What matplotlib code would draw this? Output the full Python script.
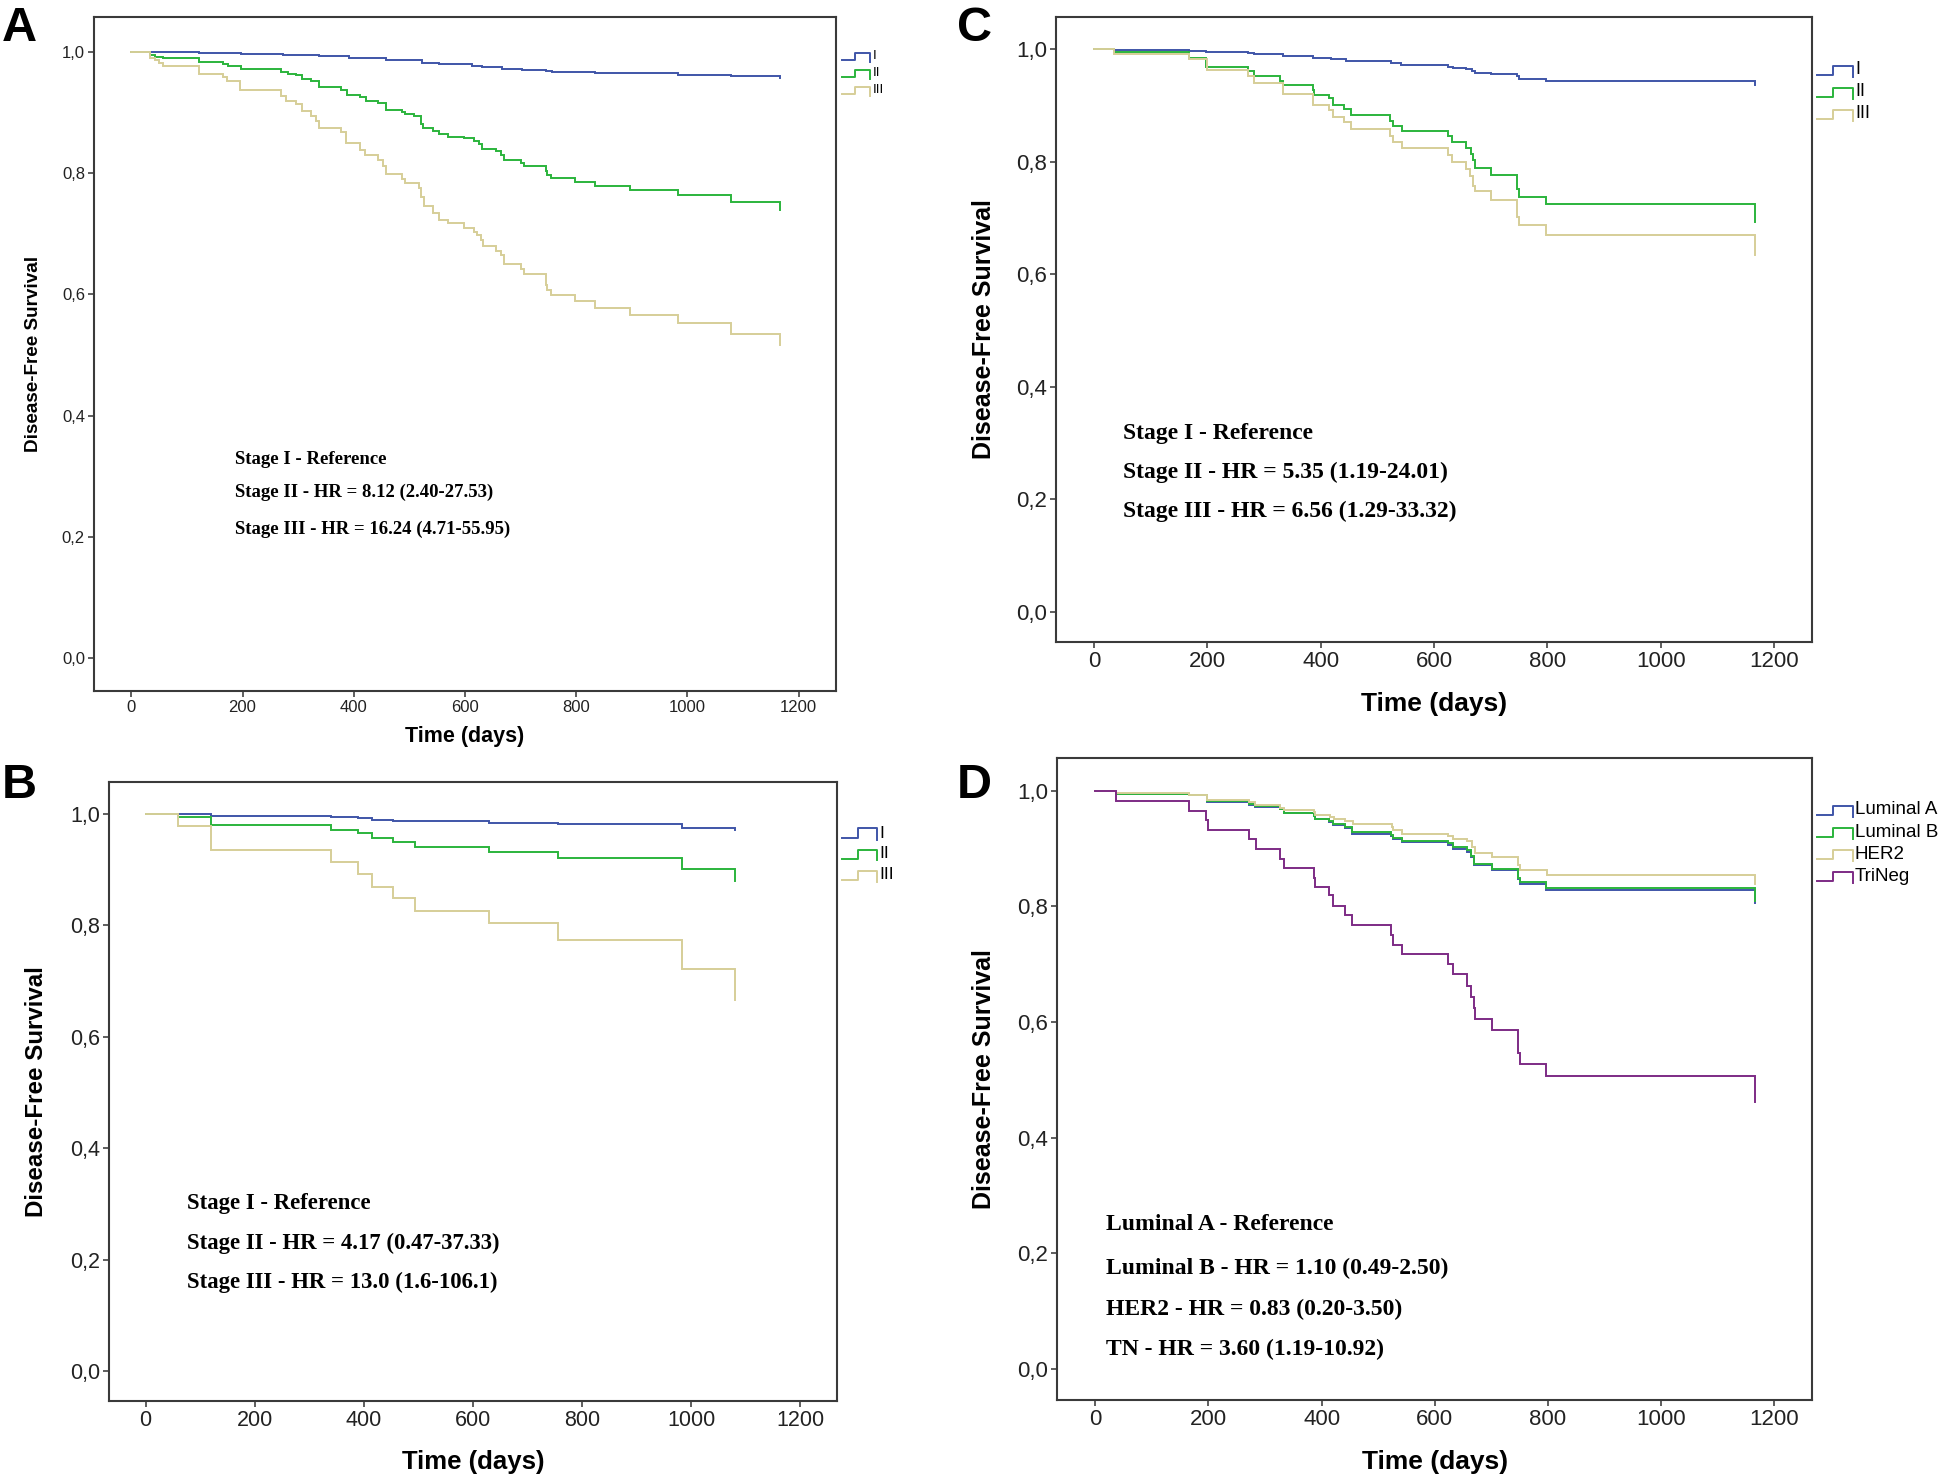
import matplotlib
matplotlib.use("Agg")
import matplotlib.pyplot as plt
from matplotlib import font_manager as fm
from matplotlib.lines import Line2D

W, H = 1946, 1478

names = {f.name for f in fm.fontManager.ttflist}
NARROW = "Liberation Sans Narrow" if "Liberation Sans Narrow" in names else "Liberation Sans"
SANS = "Liberation Sans"
SERIF = "Liberation Serif"

BLUE = "#3f55a8"
GREEN = "#2bb43c"
TAN = "#d6ce98"
PURPLE = "#7d2b85"

x_ticks = [0, 200, 400, 600, 800, 1000, 1200]
y_ticks = [0.0, 0.2, 0.4, 0.6, 0.8, 1.0]
y_tick_labels = ["0,0", "0,2", "0,4", "0,6", "0,8", "1,0"]

# ---- panel A : stage, all patients
A_t_I = [0, 122, 198, 272, 308, 338, 392, 458, 523, 553, 613, 631, 667, 703, 745, 757, 834, 897, 983, 1079, 1166]
A_s_I = [1.0, 0.998, 0.996, 0.995, 0.994, 0.992, 0.990, 0.986, 0.981, 0.980, 0.977, 0.975, 0.972, 0.970, 0.968,
         0.967, 0.965, 0.964, 0.962, 0.960, 0.957]
A_t_II = [0, 34, 42, 57, 122, 165, 174, 198, 270, 281, 296, 307, 323, 338, 377, 388, 411, 422, 443, 458, 487, 493,
          508, 521, 525, 542, 553, 569, 598, 616, 625, 631, 655, 664, 670, 700, 706, 745, 748, 755, 797, 834, 897,
          983, 1079, 1166]
A_s_II = [1.0, 0.995, 0.991, 0.989, 0.983, 0.980, 0.977, 0.972, 0.967, 0.963, 0.961, 0.954, 0.951, 0.942, 0.937,
          0.929, 0.925, 0.919, 0.915, 0.903, 0.900, 0.897, 0.893, 0.880, 0.874, 0.869, 0.864, 0.860, 0.857, 0.852,
          0.847, 0.839, 0.836, 0.830, 0.822, 0.817, 0.812, 0.803, 0.797, 0.792, 0.785, 0.779, 0.771, 0.763, 0.752,
          0.739]
A_t_III = [0, 34, 42, 49, 57, 122, 165, 172, 196, 270, 278, 296, 307, 323, 332, 338, 377, 386, 411, 421, 443, 452,
           458, 487, 493, 518, 521, 527, 542, 553, 569, 598, 616, 622, 628, 632, 655, 664, 670, 700, 706, 745, 748,
           755, 797, 834, 897, 983, 1079, 1166]
A_s_III = [1.0, 0.990, 0.986, 0.981, 0.976, 0.963, 0.958, 0.951, 0.937, 0.926, 0.919, 0.914, 0.902, 0.893, 0.885,
           0.874, 0.867, 0.849, 0.838, 0.830, 0.822, 0.811, 0.798, 0.790, 0.784, 0.775, 0.761, 0.746, 0.734, 0.723,
           0.717, 0.709, 0.703, 0.698, 0.690, 0.680, 0.672, 0.665, 0.650, 0.641, 0.633, 0.615, 0.607, 0.598, 0.589,
           0.578, 0.565, 0.552, 0.535, 0.516]
A_notes = ["Stage I - Reference", "Stage II - HR = 8.12 (2.40-27.53)", "Stage III - HR = 16.24 (4.71-55.95)"]

# ---- panel B
B_t = [0, 60, 120, 340, 389, 415, 454, 493, 630, 756, 984, 1080]
B_s_I = [1.0, 0.999, 0.996, 0.994, 0.992, 0.989, 0.987, 0.986, 0.983, 0.981, 0.975, 0.971]
B_s_II = [1.0, 0.994, 0.979, 0.971, 0.965, 0.956, 0.949, 0.941, 0.932, 0.921, 0.901, 0.879]
B_s_III = [1.0, 0.978, 0.934, 0.913, 0.891, 0.869, 0.848, 0.826, 0.803, 0.773, 0.722, 0.665]
B_notes = ["Stage I - Reference", "Stage II - HR = 4.17 (0.47-37.33)", "Stage III - HR = 13.0 (1.6-106.1)"]

# ---- panel C
C_t_I = [0, 36, 168, 197, 271, 283, 333, 386, 418, 444, 453, 524, 542, 624, 633, 657, 666, 672, 701, 747, 750, 797, 1167]
C_s_I = [1.0, 0.999, 0.997, 0.995, 0.993, 0.991, 0.988, 0.985, 0.982, 0.979, 0.978, 0.975, 0.972, 0.969, 0.966,
         0.964, 0.961, 0.958, 0.955, 0.952, 0.947, 0.943, 0.937]
C_t_II = [0, 36, 168, 197, 271, 283, 328, 333, 386, 388, 414, 421, 441, 453, 523, 527, 543, 624, 632, 657, 665, 669,
          672, 701, 747, 750, 797, 1167]
C_s_II = [1.0, 0.994, 0.984, 0.968, 0.961, 0.952, 0.944, 0.936, 0.927, 0.919, 0.913, 0.901, 0.894, 0.883, 0.873,
          0.864, 0.854, 0.845, 0.835, 0.824, 0.814, 0.802, 0.788, 0.776, 0.752, 0.737, 0.724, 0.692]
C_t_III = [0, 36, 168, 199, 271, 283, 333, 387, 414, 421, 441, 453, 523, 527, 543, 624, 632, 657, 663, 669, 672, 701,
           747, 750, 797, 1167]
C_s_III = [1.0, 0.992, 0.982, 0.962, 0.952, 0.940, 0.921, 0.900, 0.891, 0.879, 0.870, 0.858, 0.846, 0.835, 0.824,
           0.811, 0.799, 0.787, 0.774, 0.757, 0.747, 0.731, 0.701, 0.687, 0.670, 0.634]
C_notes = ["Stage I - Reference", "Stage II - HR = 5.35 (1.19-24.01)", "Stage III - HR = 6.56 (1.29-33.32)"]

# ---- panel D : molecular subtype
D_t_lum = [0, 36, 166, 197, 271, 283, 327, 334, 386, 389, 414, 421, 442, 453, 523, 527, 543, 624, 632, 657, 664, 670,
           701, 747, 750, 797, 1167]
D_s_lumA = [1.0, 0.995, 0.992, 0.981, 0.976, 0.972, 0.968, 0.961, 0.956, 0.951, 0.946, 0.941, 0.936, 0.926, 0.922,
            0.916, 0.911, 0.907, 0.900, 0.895, 0.886, 0.871, 0.863, 0.847, 0.839, 0.829, 0.806]
D_s_lumB = [1.0, 0.995, 0.992, 0.982, 0.977, 0.973, 0.969, 0.962, 0.957, 0.952, 0.948, 0.943, 0.938, 0.928, 0.924,
            0.918, 0.913, 0.909, 0.902, 0.897, 0.888, 0.873, 0.865, 0.850, 0.842, 0.832, 0.810]
D_t_her2 = [0, 36, 166, 197, 271, 283, 327, 334, 386, 389, 415, 422, 442, 455, 524, 527, 543, 624, 633, 657, 666, 672,
            701, 747, 751, 798, 1167]
D_s_her2 = [1.0, 0.996, 0.992, 0.984, 0.980, 0.976, 0.971, 0.967, 0.963, 0.959, 0.955, 0.951, 0.947, 0.943, 0.937,
            0.932, 0.926, 0.922, 0.917, 0.913, 0.902, 0.892, 0.886, 0.871, 0.863, 0.855, 0.838]
D_t_tn = [0, 36, 166, 196, 200, 271, 284, 327, 334, 386, 389, 414, 421, 442, 453, 523, 527, 543, 624, 632, 657, 665,
          669, 672, 701, 747, 750, 797, 1167]
D_s_tn = [1.0, 0.983, 0.966, 0.950, 0.932, 0.917, 0.899, 0.882, 0.867, 0.850, 0.834, 0.819, 0.801, 0.785, 0.768,
          0.751, 0.734, 0.717, 0.700, 0.683, 0.663, 0.644, 0.625, 0.606, 0.587, 0.546, 0.527, 0.506, 0.461]
D_notes = ["Luminal A - Reference", "Luminal B - HR = 1.10 (0.49-2.50)", "HER2 - HR = 0.83 (0.20-3.50)",
           "TN - HR = 3.60 (1.19-10.92)"]

stage_labels = ["I", "II", "III"]
subtype_labels = ["Luminal A", "Luminal B", "HER2", "TriNeg"]

fig = plt.figure(figsize=(W / 100, H / 100), dpi=100)


def setup_axes(rect, tick_fs, ylab_fs, xlab_fs, ylab_x, xlab_y):
    ax = fig.add_axes(rect)
    ax.set_xlim(-67, 1267)
    ax.set_ylim(-0.054, 1.057)
    ax.set_xticks(x_ticks)
    ax.set_xticklabels([str(v) for v in x_ticks], family=NARROW, fontsize=tick_fs, color="#222222")
    ax.set_yticks(y_ticks)
    ax.set_yticklabels(y_tick_labels, family=NARROW, fontsize=tick_fs, color="#222222")
    ax.tick_params(direction="out", length=4.5, width=1.1, color="#333333", pad=2)
    for sp in ax.spines.values():
        sp.set_color("#3a3a3a")
        sp.set_linewidth(1.5)
    ax.set_ylabel("Disease-Free Survival", family=SANS, fontweight="bold", fontsize=ylab_fs, va="center")
    ax.yaxis.set_label_coords(ylab_x, 0.5)
    ax.set_xlabel("Time (days)", family=SANS, fontweight="bold", fontsize=xlab_fs, va="center")
    ax.xaxis.set_label_coords(0.5, xlab_y)
    return ax


def km(ax, t, s, color):
    ax.step(t, s, where="post", color=color, lw=1.4, solid_joinstyle="miter")


def notes(ax, lines, x, ys, fs):
    for txt, y in zip(lines, ys):
        ax.text(x, y, txt, transform=ax.transAxes, family=SERIF, fontweight="bold",
                fontsize=fs, va="center", ha="left")


def legend(labels, colors, x0, y0, dy, w, h, fs, tx):
    # SPSS style step glyphs, positions in figure pixels
    for i, (lab, c) in enumerate(zip(labels, colors)):
        yc = y0 + i * dy
        xs = [x0, x0 + w * 0.45, x0 + w * 0.45, x0 + w, x0 + w]
        ys = [yc + h / 2, yc + h / 2, yc - h / 2, yc - h / 2, yc + h / 2 + 2]
        fig.add_artist(Line2D([v / W for v in xs], [1 - v / H for v in ys], color=c, lw=1.4,
                              transform=fig.transFigure))
        fig.text(tx / W, 1 - yc / H, lab, family=SANS, fontsize=fs, va="center", ha="left")


# Panel A
axA = setup_axes([0.0483, 0.5325, 0.3813, 0.456], 12, 13.6, 15.5, -0.0815, -0.067)
km(axA, A_t_I, A_s_I, BLUE)
km(axA, A_t_II, A_s_II, GREEN)
km(axA, A_t_III, A_s_III, TAN)
notes(axA, A_notes, 0.19, [0.344, 0.294, 0.240], 13.5)
legend(stage_labels, [BLUE, GREEN, TAN], 842, 56, 17, 28, 7, 9.5, 873)

# Panel C
axC = setup_axes([0.5427, 0.5656, 0.3885, 0.4229], 16, 18, 19, -0.095, -0.0986)
km(axC, C_t_I, C_s_I, BLUE)
km(axC, C_t_II, C_s_II, GREEN)
km(axC, C_t_III, C_s_III, TAN)
notes(axC, C_notes, 0.089, [0.333, 0.272, 0.209], 17)
legend(stage_labels, [BLUE, GREEN, TAN], 1817, 70, 22, 36, 9, 13, 1855)

# Panel B
axB = setup_axes([0.056, 0.052, 0.374, 0.419], 15.5, 17.4, 18.5, -0.099, -0.0985)
km(axB, B_t, B_s_I, BLUE)
km(axB, B_t, B_s_II, GREEN)
km(axB, B_t, B_s_III, TAN)
notes(axB, B_notes, 0.107, [0.319, 0.255, 0.192], 16.4)
legend(stage_labels, [BLUE, GREEN, TAN], 842, 833, 21, 35, 9, 12.5, 879)

# Panel D
axD = setup_axes([0.5434, 0.0528, 0.3877, 0.4344], 16, 18, 19, -0.0974, -0.0966)
km(axD, D_t_lum, D_s_lumA, BLUE)
km(axD, D_t_lum, D_s_lumB, GREEN)
km(axD, D_t_her2, D_s_her2, TAN)
km(axD, D_t_tn, D_s_tn, PURPLE)
notes(axD, D_notes, 0.065, [0.273, 0.205, 0.141, 0.079], 17)
legend(subtype_labels, [BLUE, GREEN, TAN, PURPLE], 1817, 810, 22.2, 36, 9, 13.5, 1855)

# panel letters
for letter, px, py in [("A", 2, 6), ("C", 957, 6), ("B", 2, 763), ("D", 957, 763)]:
    fig.text(px / W, 1 - py / H, letter, family=SANS, fontweight="bold", fontsize=35, va="top", ha="left")

fig.savefig("out.png", dpi=100, facecolor="white")
